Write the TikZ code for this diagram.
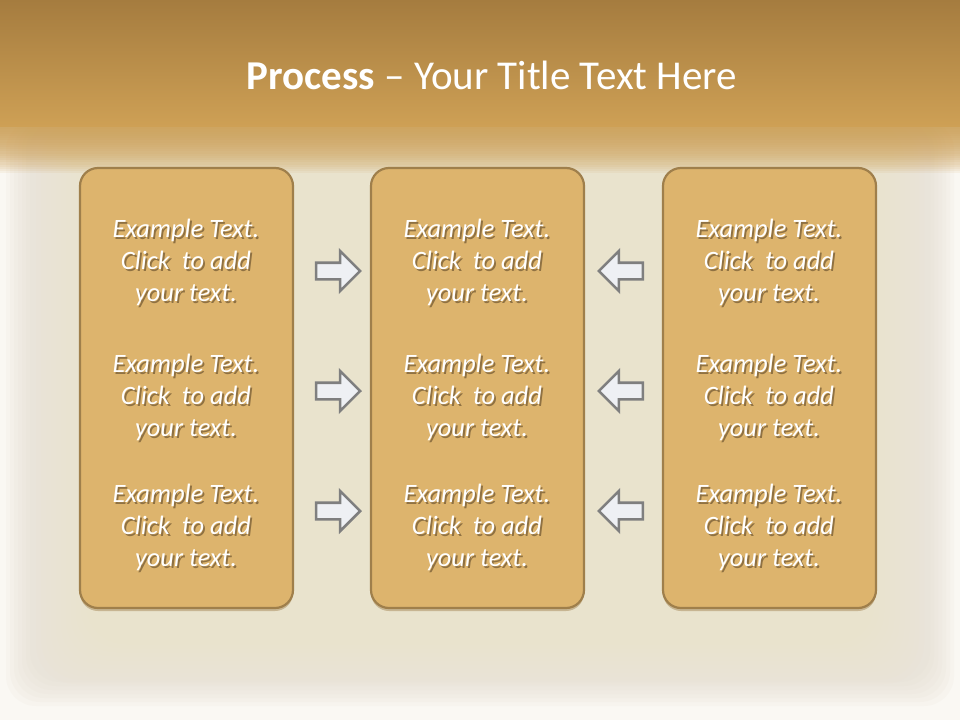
\documentclass[tikz,border=0pt]{standalone}
\usepackage{fontspec}
\setmainfont{Carlito}
\usetikzlibrary{shapes.arrows,shadows}
\definecolor{bandtop}{HTML}{A57C3F}
\definecolor{bandbot}{HTML}{CEA055}
\definecolor{cream}{HTML}{EFE3CD}
\definecolor{edgewhite}{HTML}{FAF8F3}
\definecolor{grunge}{HTML}{E2DACD}
\definecolor{boxfill}{HTML}{DDB46D}
\definecolor{boxline}{HTML}{9F7F4B}
\definecolor{arrowfill}{HTML}{EEF0F4}
\definecolor{arrowline}{HTML}{7F7F7F}
\definecolor{shadowc}{HTML}{6E5530}
\newcommand{\shadowed}[1]{\leavevmode\rlap{\kern1.8pt\raisebox{-2.2pt}{\color{shadowc!70!boxfill}\begin{tabular}{@{}c@{}}#1\end{tabular}}}\begin{tabular}{@{}c@{}}#1\end{tabular}}
\tikzset{
  panel/.style={draw=boxline, line width=2.2pt, fill=boxfill, rounded corners=18pt,
    drop shadow={shadow xshift=0pt, shadow yshift=-3pt, fill=boxline, opacity=0.45},
    minimum width=213pt, minimum height=440pt},
  txt/.style={text=white, align=center, font=\fontsize{26.5}{32}\selectfont\itshape, inner sep=0pt},
  blockarrow/.style={single arrow, draw=arrowline, fill=arrowfill, line width=2.6pt,
    minimum height=44pt, minimum width=40pt, inner sep=6.5pt, single arrow head extend=11pt,
    single arrow tip angle=90},
}
\newcommand{\exampletext}{\shadowed{Example Text.\\Click\ \ to add\\your text.}}
\begin{document}
\begin{tikzpicture}[x=1pt,y=-1pt]
\useasboundingbox (0,0) rectangle (960,720);
% background
\fill[edgewhite] (0,0) rectangle (960,720);
\foreach \i in {0,...,6}{
  \fill[grunge, opacity=0.12, rounded corners=30pt] (6+\i*4,120) rectangle (954-\i*4,706-\i*4);
}
\foreach \i in {0,...,24}{
  \fill[cream, opacity=0.1, rounded corners=40pt] (36+\i*5,120) rectangle (924-\i*5,684-\i*4);
}
\shade[top color=bandtop, bottom color=bandbot] (0,0) rectangle (960,126);
\foreach \i in {1,...,22}{
  \fill[bandbot, opacity=0.09] (0,125) rectangle (960,125+\i*2.2);
}
% title
\node[text=white, font=\fontsize{41}{48}\selectfont, inner sep=0pt] (title) at (492,75) {\textbf{Process} -- Your Title Text Here};
% panels
\node[panel] (left) at (186.5,388) {};
\node[panel] (mid) at (477.5,388) {};
\node[panel] (right) at (769.5,388) {};
% texts
\foreach \cx/\nm in {186/L,477/M,769/R}{
  \foreach \cy/\k in {264/1,399/2,529/3}{
    \node[txt] (t\nm\k) at (\cx,\cy) {\exampletext};
  }
}
% arrows
\foreach \cy/\k in {271/1,391/2,511/3}{
  \node[blockarrow] (ar\k) at (334,\cy) {};
  \node[blockarrow, shape border rotate=180] (al\k) at (625,\cy) {};
}
\end{tikzpicture}
\end{document}
